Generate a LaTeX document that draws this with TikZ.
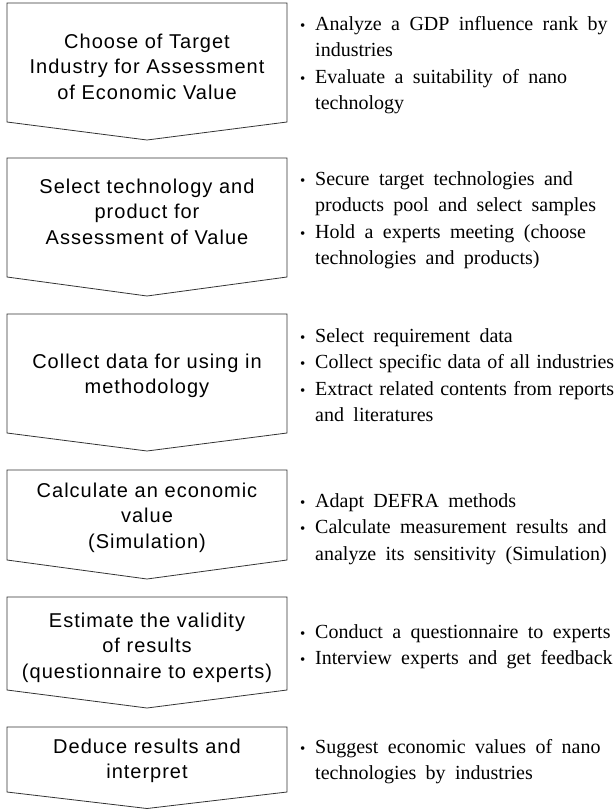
\documentclass[tikz,border=0pt]{standalone}
\usepackage{fontspec}
\setmainfont{Liberation Serif}
\newfontfamily\stepfont[LetterSpace=5,WordSpace=1.6]{Liberation Sans}
\newfontfamily\notefont{Liberation Serif}

% one step of the flow: box with a pointed bottom
\newcommand{\drawStep}[3]{
	\draw[steparrow] (7,#1) -- (287,#1) -- (287,#2) -- (147,#3) -- (7,#2) -- cycle;
}
% bullet and the indent of a wrapped line
\newcommand{\bul}{\makebox[15pt][l]{\fontsize{15}{15}\selectfont\textbullet}}
\newcommand{\hang}{\newline\hspace*{15pt}}

\tikzset{
	steparrow/.style={draw=black!80, line width=0.8pt},
	steptext/.style={anchor=base, text width=278pt, align=center, inner sep=0pt, font=\stepfont\fontsize{20}{25.5}\selectfont},
	notetext/.style={anchor=base west, text width=314pt, align=left, inner sep=0pt, font=\notefont\fontsize{20}{26.5}\selectfont,
		execute at begin node={\spaceskip=0.47em plus 0.2em minus 0.25em\hyphenpenalty=10000\parskip=0pt}},
}

\begin{document}
\begin{tikzpicture}[x=1pt,y=-1pt]
\useasboundingbox (0,0) rectangle (614,809);

%Steps (top, side bottom, tip)
\drawStep{3}{122}{140}
\drawStep{158}{277}{296}
\drawStep{314}{433}{451}
\drawStep{470}{560}{579}
\drawStep{597}{690}{708}
\drawStep{727}{792}{808.5}

% Step titles
\node[steptext] (step1) at (147,48) {Choose of Target\\Industry for Assessment\\of Economic Value};
\node[steptext] (step2) at (147,193) {Select technology and\\product for\\Assessment of Value};
\node[steptext] (step3) at (147,368) {Collect data for using in\\methodology};
\node[steptext] (step4) at (147,497) {Calculate an economic\\value\\(Simulation)};
\node[steptext] (step5) at (147,627) {Estimate the validity\\of results\\(questionnaire to experts)};
\node[steptext] (step6) at (147,753) {Deduce results and\\interpret};

% Notes beside each step
\node[notetext] (note1) at (300,30) {\bul Analyze a GDP influence rank by\hang industries\par
	\bul Evaluate a suitability of nano\hang technology};
\node[notetext] (note2) at (300,185) {\bul Secure target technologies and\hang products pool and select samples\par
	\bul Hold a experts meeting (choose\hang technologies and products)};
\node[notetext] (note3) at (300,342) {\bul Select requirement data\par
	\bul Collect specific data of all industries\par
	\bul Extract related contents from reports\hang and literatures};
\node[notetext] (note4) at (300,507) {\bul Adapt DEFRA methods\par
	\bul Calculate measurement results and\hang analyze its sensitivity (Simulation)};
\node[notetext] (note5) at (300,638) {\bul Conduct a questionnaire to experts\par
	\bul Interview experts and get feedback};
\node[notetext] (note6) at (300,753) {\bul Suggest economic values of nano\hang technologies by industries};
\end{tikzpicture}
\end{document}
